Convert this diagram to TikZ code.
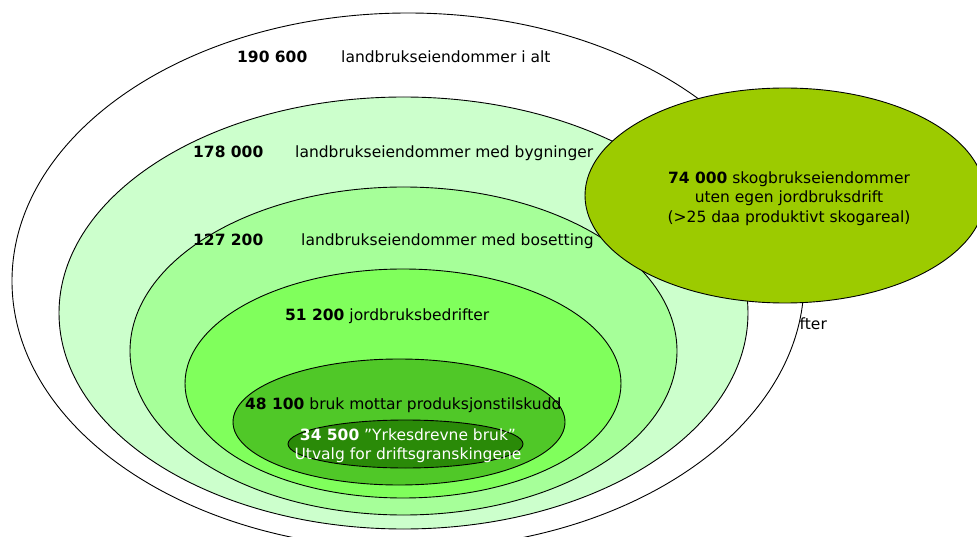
\documentclass[tikz,border=0pt]{standalone}
\usepackage{fontspec}
\setmainfont{DejaVu Sans}
\usetikzlibrary{shapes.geometric}
\definecolor{ringPale}{HTML}{CCFFCC}
\definecolor{ringLight}{HTML}{A6FF99}
\definecolor{ringMid}{HTML}{80FF5C}
\definecolor{ringDeep}{HTML}{50C828}
\definecolor{ringDark}{HTML}{2A8A08}
\definecolor{forestGreen}{HTML}{9CCB00}
\begin{document}
\begin{tikzpicture}
[x=1pt,y=-1pt,
  ringDecorate/.style={shape=ellipse,draw,line width=0.9pt,inner sep=0pt},
  textDecorate/.style={inner sep=0pt,font=\fontsize{15.5}{19.7}\selectfont},
  labelDecorate/.style={textDecorate,anchor=base west},
  numberDecorate/.style={labelDecorate,font=\fontsize{15.5}{19.7}\selectfont\bfseries}]
\useasboundingbox (0,0) rectangle (977,537);
%% cut-off label behind the outer ring
\node (tail) at (799.5,330) [labelDecorate] {fter};
%% rings, outermost first
\foreach \ringname/\x/\y/\rx/\ry/\col in {
  r190/408/281/396/268/white, r178/403.5/313/344.5/216/ringPale,
  r127/403.5/351/273.5/164/ringLight, r51/403/383.5/218/114.5/ringMid,
  r48/399/422/166/63/ringDeep, r34/405.5/444/117.5/24/ringDark}
{
  \node (\ringname) at (\x,\y) [ringDecorate,fill=\col,
    minimum width=2*\rx,minimum height=2*\ry] {};
}
\node (forest) at (785,195.5) [ringDecorate,fill=forestGreen,
  minimum width=400,minimum height=215] {};
%% counts and labels
\foreach \nodename/\xn/\xt/\y/\num/\txt in {
  190/237/341/63/190 600/landbrukseiendommer i alt,
  178/193/295/158/178 000/landbrukseiendommer med bygninger,
  127/193/301/246/127 200/landbrukseiendommer med bosetting}
{
  \node (n\nodename) at (\xn,\y) [numberDecorate] {\num};
  \node (t\nodename) at (\xt,\y) [labelDecorate] {\txt};
}
\node (t51) at (285,320) [labelDecorate] {\textbf{51 200} jordbruksbedrifter};
\node (t48) at (245,409) [labelDecorate] {\textbf{48 100} bruk mottar produksjonstilskudd};
\node (t34) at (408,428.2) [textDecorate,anchor=north,align=center,text=white]
  {\textbf{34 500} ”Yrkesdrevne bruk”\\Utvalg for driftsgranskingene};
\node (tforest) at (789,171.2) [textDecorate,anchor=north,align=center]
  {\textbf{74 000} skogbrukseiendommer\\uten egen jordbruksdrift\\(>25 daa produktivt skogareal)};
\end{tikzpicture}
\end{document}
